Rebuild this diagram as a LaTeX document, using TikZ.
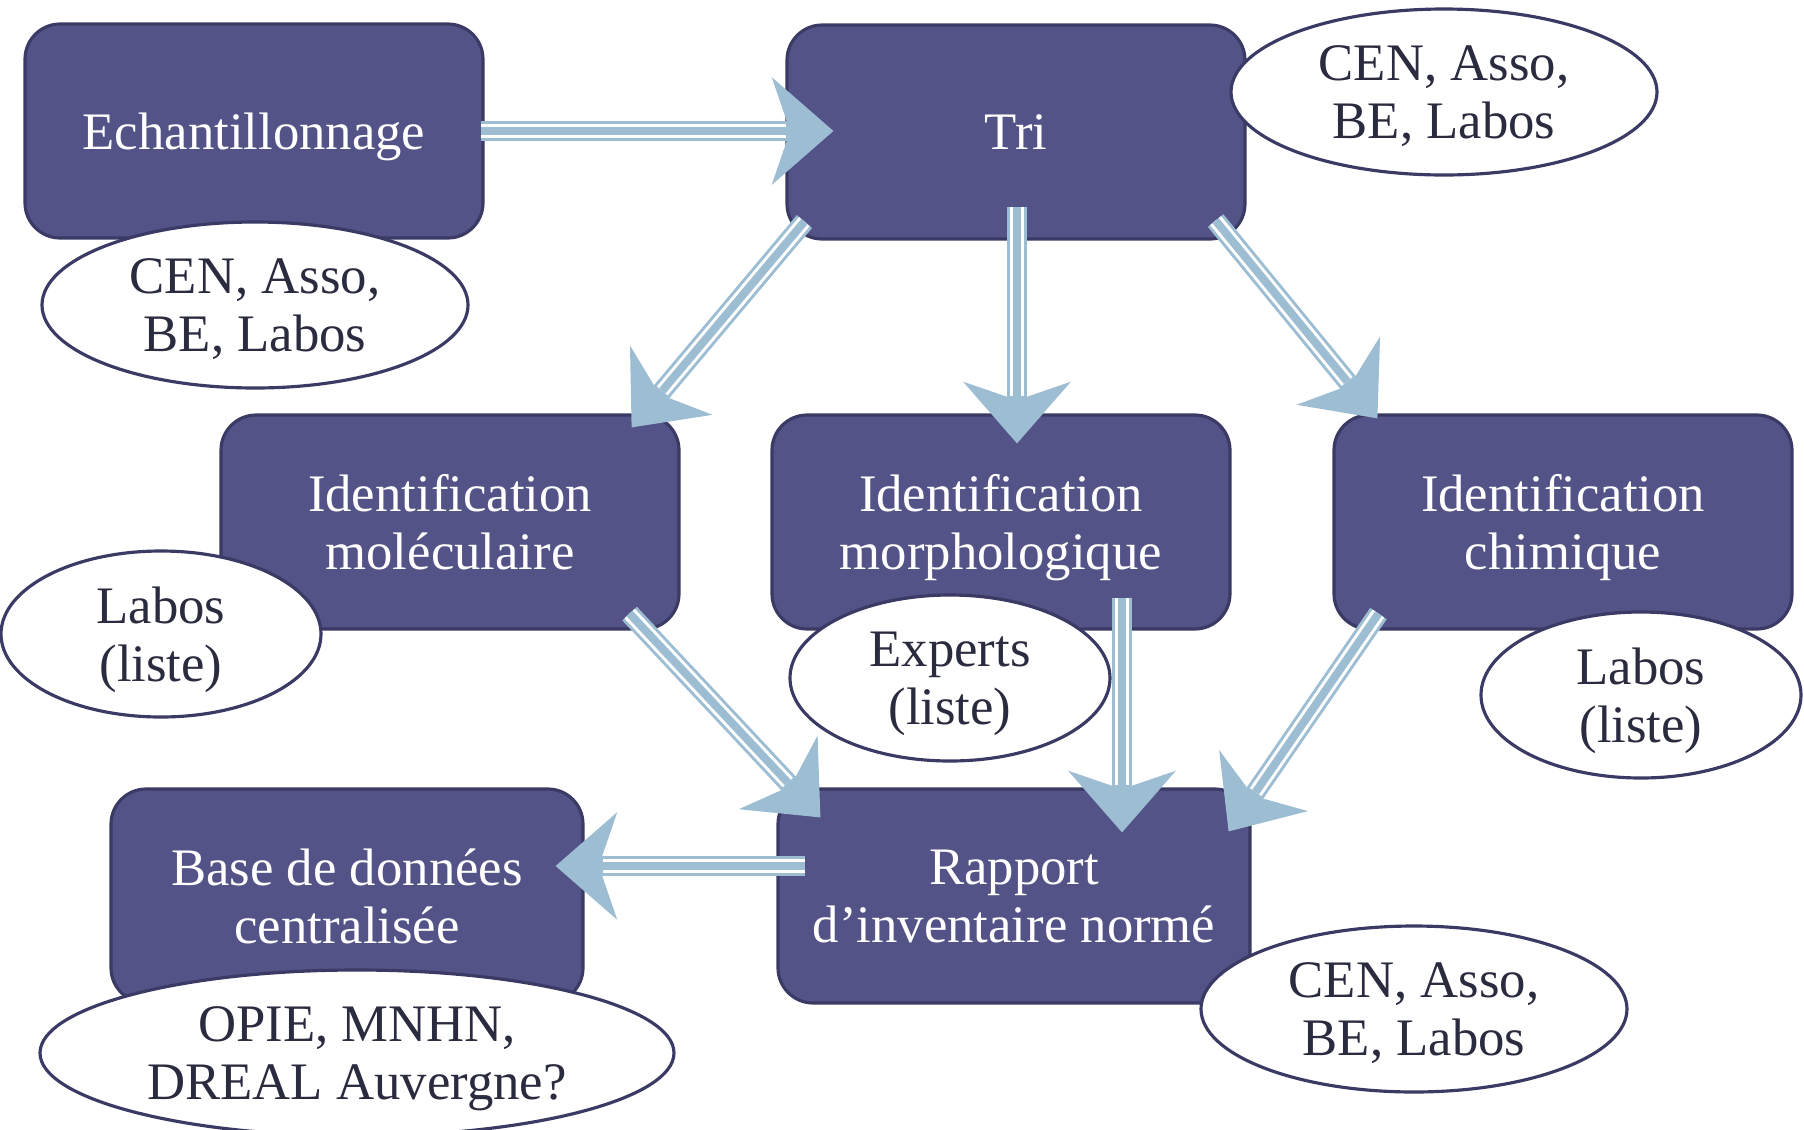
\documentclass[tikz,border=0pt]{standalone}
\usepackage{fontspec}
\setmainfont{Liberation Serif}
\usetikzlibrary{calc}
\usetikzlibrary{arrows.meta}
\usetikzlibrary{shapes.geometric}

\definecolor{boxblue}{RGB}{83,83,136}
\definecolor{boxedge}{RGB}{58,58,100}
\definecolor{flowblue}{RGB}{157,189,211}
\definecolor{inktext}{RGB}{43,43,64}

\tikzset{
 task/.style={draw=boxedge, fill=boxblue, line width=0.9pt, rounded corners=10pt, minimum width=45.8mm, minimum height=21.4mm, text=white, align=center, text depth=0pt, font=\fontsize{15}{16.5}\selectfont},
 actors/.style={ellipse, draw=boxedge, fill=white, line width=0.9pt, minimum width=42.6mm, minimum height=16.6mm, inner sep=0pt, text=inktext, align=center, text depth=0pt, font=\fontsize{15}{16.5}\selectfont},
 flow/.style={draw=flowblue, line width=5.7pt, -{Stealth[length=17.4pt, width=30.2pt, inset=5.1pt]},
   postaction={draw=white, line width=4pt, arrows=-, shorten >=13.6pt},
   postaction={draw=flowblue, line width=2.3pt, arrows=-, shorten >=13.6pt}}
}

\begin{document}
\begin{tikzpicture}[x=0.1mm, y=-0.1mm]
\useasboundingbox (0,0) rectangle (1804,1130);
\node[task] (echant) at (254,131) {Echantillonnage};
\node[task] (tri) at (1016,132) {Tri};
\node[task] (molec) at (450,522) {Identification\\moléculaire};
\node[task] (morpho) at (1001,522) {Identification\\morphologique};
\node[task] (chim) at (1563,522) {Identification\\chimique};
\node[task, minimum width=47.2mm] (base) at (347,896) {Base de données\\centralisée};
\node[task, minimum width=47.2mm] (rapport) at (1014,896) {Rapport\\d’inventaire normé};

\node[actors] (triwho) at (1444,92) {CEN, Asso,\\BE, Labos};
\node[actors] (echantwho) at (255,305) {CEN, Asso,\\BE, Labos};
\node[actors, minimum width=32mm] (molecwho) at (161,634) {Labos\\(liste)};
\node[actors, minimum width=32mm] (morphowho) at (950,678) {Experts\\(liste)};
\node[actors, minimum width=32mm] (chimwho) at (1641,695) {Labos\\(liste)};
\node[actors, minimum width=63.4mm] (basewho) at (357,1053) {OPIE, MNHN,\\DREAL Auvergne?};
\node[actors] (rapportwho) at (1414,1009) {CEN, Asso,\\BE, Labos};

\draw[flow] ($(echant.east)+(-4,0)$) -- ($(tri.west)+(48,-1)$);
\draw[flow] ($(tri.south west)+(19,-19)$) -- ($(molec.north east)+(-49,14)$);
\draw[flow] ($(tri.south)+(1,-34)$) -- ($(morpho.north)+(16,30)$);
\draw[flow] ($(tri.south east)+(-31,-20)$) -- ($(chim.north west)+(45,5)$);
\draw[flow] ($(molec.south east)+(-51,-17)$) -- ($(rapport.north west)+(44,30)$);
\draw[flow] ($(morpho.south)+(121,-33)$) -- ($(rapport.north)+(108,45)$);
\draw[flow] ($(chim.south west)+(46,-17)$) -- ($(rapport.north east)+(-23,44)$);
\draw[flow] ($(rapport.west)+(29,-30)$) -- ($(base.east)+(-29,-30)$);
\end{tikzpicture}
\end{document}
